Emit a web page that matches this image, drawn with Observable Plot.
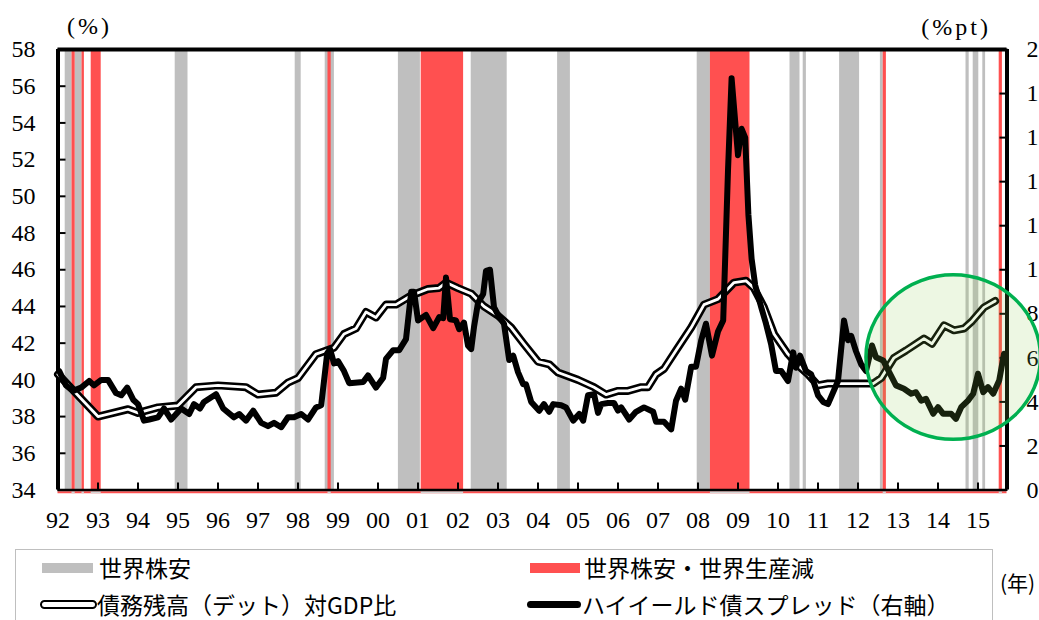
<!DOCTYPE html>
<html>
<head>
<meta charset="utf-8">
<script src="https://cdn.jsdelivr.net/npm/d3@7"></script>
<script src="https://cdn.jsdelivr.net/npm/@observablehq/plot@0.6"></script>
<style>
  html, body { margin: 0; padding: 0; background: #fff; }
  body { width: 1039px; height: 620px; overflow: hidden; position: relative; }
  #chart { position: absolute; left: 0; top: 0; }
  #chart svg, #chart svg text { font-family: "Liberation Serif", "DejaVu Serif", "Times New Roman", serif !important; }
  .unit { position: absolute; font-family: "Liberation Serif", "DejaVu Serif", "Times New Roman", serif; font-size: 24px; line-height: 24px; letter-spacing: 3px; color: #000; white-space: nowrap; }
  #legendBox { position: absolute; left: 15px; top: 549px; width: 978px; height: 110px; border: 1.5px solid #bfbfbf; box-sizing: border-box; }
  .lg { position: absolute; font-family: "Noto Sans CJK JP", sans-serif; font-size: 23px; line-height: 23px; color: #000; white-space: nowrap; }
  .sw { position: absolute; box-sizing: border-box; }
</style>
</head>
<body>
<div id="chart"></div>
<div class="unit" style="left:67px; top:14px;">(%)</div>
<div class="unit" style="right:48px; top:15px;">(%pt)</div>
<div id="legendBox"></div>
<div class="sw" style="left:42px; top:563px; width:51px; height:10px; background:#bfbfbf;"></div>
<div class="lg" style="left:99px; top:556px;">世界株安</div>
<div class="sw" style="left:530px; top:563px; width:50px; height:10px; background:#ff5050;"></div>
<div class="lg" style="left:584px; top:556px;">世界株安・世界生産減</div>
<div class="sw" style="left:40px; top:600px; width:57px; height:9px; background:#fff; border:2.7px solid #000; border-radius:4.5px;"></div>
<div class="lg" style="left:97px; top:593px;">債務残高（デット）対GDP比</div>
<div class="sw" style="left:527px; top:601px; width:54px; height:7px; background:#000; border-radius:3.5px;"></div>
<div class="lg" style="left:582px; top:593px;">ハイイールド債スプレッド（右軸）</div>
<div class="lg" style="left:1000px; top:572px; font-size:21px; line-height:21px;">(年)</div>
<script>
// ---- data ----
const yearTicks = d3.range(1992, 2016);
const leftTicks = d3.range(34, 59, 2);     // 債務残高 (%)
const rightTicks = d3.range(0, 21, 2);     // スプレッド (%pt)

// 債務残高（デット）対GDP比 (%), left axis
const debtYear = [1992.00,1993.00,1993.75,1994.00,1994.50,1995.00,1995.45,1996.00,1996.70,1997.00,1997.45,1997.75,1998.00,1998.45,1998.90,1999.15,1999.45,1999.70,1999.95,2000.20,2000.45,2000.83,2001.25,2001.52,2001.70,2002.00,2002.33,2002.65,2003.00,2003.33,2003.65,2004.00,2004.28,2004.50,2005.00,2005.40,2005.70,2006.00,2006.25,2006.58,2006.75,2006.95,2007.15,2007.45,2007.83,2008.15,2008.50,2008.90,2009.20,2009.40,2009.65,2009.90,2010.25,2010.50,2010.75,2011.00,2011.25,2011.75,2012.38,2012.58,2012.90,2013.20,2013.65,2013.85,2014.15,2014.40,2014.65,2014.83,2015.15,2015.43];
const debtValue = [40.3,38.0,38.4,38.2,38.5,38.6,39.6,39.7,39.6,39.2,39.3,39.85,40.1,41.4,41.75,42.5,42.8,43.7,43.4,44.1,44.1,44.6,44.95,45.0,45.3,45.0,44.7,44.0,43.5,42.85,41.95,41.0,40.85,40.4,40.0,39.6,39.2,39.4,39.4,39.6,39.6,40.3,40.6,41.6,42.85,44.1,44.4,45.3,45.4,45.0,43.95,42.5,41.4,40.8,40.3,39.7,39.8,39.8,39.8,40.1,41.2,41.6,42.25,41.97,42.97,42.7,42.8,43.15,43.95,44.3];

// ハイイールド債スプレッド (%pt), right axis
const spreadYear = [1992.03,1992.20,1992.38,1992.58,1992.78,1992.90,1993.08,1993.25,1993.45,1993.58,1993.73,1993.88,1994.00,1994.15,1994.28,1994.50,1994.65,1994.83,1995.08,1995.28,1995.40,1995.55,1995.65,1995.95,1996.13,1996.40,1996.53,1996.70,1996.88,1997.08,1997.25,1997.40,1997.58,1997.75,1997.90,1998.08,1998.25,1998.45,1998.58,1998.73,1998.80,1998.90,1999.00,1999.15,1999.28,1999.63,1999.75,1999.95,2000.13,2000.20,2000.38,2000.53,2000.70,2000.83,2000.90,2001.00,2001.20,2001.38,2001.53,2001.63,2001.70,2001.80,2001.95,2002.03,2002.15,2002.25,2002.33,2002.40,2002.50,2002.63,2002.70,2002.80,2002.90,2003.03,2003.15,2003.28,2003.38,2003.50,2003.63,2003.70,2003.83,2004.03,2004.15,2004.28,2004.38,2004.58,2004.70,2004.88,2005.03,2005.13,2005.25,2005.40,2005.50,2005.58,2005.75,2005.90,2006.00,2006.08,2006.28,2006.45,2006.65,2006.88,2006.95,2007.15,2007.33,2007.45,2007.58,2007.68,2007.83,2007.95,2008.08,2008.20,2008.35,2008.50,2008.63,2008.75,2008.84,2009.00,2009.09,2009.18,2009.26,2009.34,2009.43,2009.58,2009.70,2009.83,2009.95,2010.08,2010.25,2010.38,2010.45,2010.55,2010.70,2010.83,2011.00,2011.13,2011.25,2011.50,2011.65,2011.75,2011.83,2011.95,2012.08,2012.20,2012.35,2012.45,2012.63,2012.78,2012.95,2013.15,2013.33,2013.45,2013.58,2013.70,2013.88,2014.00,2014.13,2014.33,2014.45,2014.58,2014.75,2014.88,2015.00,2015.13,2015.25,2015.38,2015.53,2015.65];
const spreadValue = [5.4,4.75,4.5,4.65,4.95,4.75,5.0,5.0,4.4,4.3,4.65,4.1,3.9,3.15,3.2,3.3,3.7,3.2,3.7,3.45,3.9,3.7,4.0,4.35,3.7,3.3,3.45,3.15,3.6,3.05,2.9,3.05,2.85,3.3,3.3,3.45,3.2,3.75,3.85,6.2,6.4,5.75,5.85,5.4,4.85,4.9,5.2,4.65,5.1,5.95,6.35,6.35,6.85,9.0,9.0,7.7,7.95,7.35,7.85,7.8,9.65,7.75,7.7,7.3,7.6,6.55,6.4,7.4,8.5,8.9,9.95,10.0,8.3,7.85,7.55,5.9,6.1,5.35,4.8,4.8,4.0,3.6,3.9,3.55,3.9,3.85,3.75,3.15,3.45,3.15,4.3,4.35,3.5,3.9,3.95,3.95,3.6,3.75,3.2,3.55,3.75,3.55,3.1,3.1,2.75,4.05,4.6,4.1,5.6,5.6,6.8,7.55,6.1,7.2,7.7,14.5,18.7,15.2,16.4,16.0,12.5,10.5,9.3,8.3,7.55,6.6,5.4,5.4,4.95,6.25,5.55,6.1,5.4,5.25,4.3,4.0,3.9,4.95,7.7,6.8,7.0,6.3,5.7,5.4,6.56,6.03,5.88,5.35,4.75,4.6,4.37,4.44,4.06,4.14,3.46,3.76,3.46,3.46,3.23,3.76,4.06,4.37,5.28,4.44,4.67,4.37,4.97,6.19];

// 世界株安 periods (gray) and 世界株安・世界生産減 periods (red)
const grayStart = [1992.18,1992.43,1994.93,1997.93,1998.68,2000.51,2002.33,2004.49,2007.98,2010.30,2010.63,2011.54,2012.56,2014.70,2014.88,2015.12];
const grayEnd   = [1992.35,1992.60,1995.25,1998.08,1998.91,2001.06,2003.23,2004.81,2008.31,2010.55,2010.71,2012.04,2012.63,2014.78,2015.02,2015.19];
const redStart  = [1992.35,1992.60,1992.83,1998.75,2001.08,2008.31,2012.63,2015.53];
const redEnd    = [1992.43,1992.66,1993.08,1998.83,2002.14,2009.30,2012.71,2015.61];

// highlight circle (annotation)
const highlightYear = [2014.38];
const highlightValue = [41.24];

// ---- build ----
const X0 = 1992, X1 = 2015.725;
const toLeft = s => 34 + s * 24 / 20;
const fromLeft = v => Math.round((v - 34) * 20 / 24);
// the reference shows the right-axis labels clipped by the image edge: only the leading digit is visible
const rightLabel = v => String(fromLeft(v)).charAt(0);

const debt = debtYear.map((t, i) => ({t, v: debtValue[i]}));
const spread = spreadYear.map((t, i) => ({t, v: toLeft(spreadValue[i])}));
const gray = grayStart.map((s, i) => ({s, e: grayEnd[i]}));
const red = redStart.map((s, i) => ({s, e: redEnd[i]}));
const highlight = highlightYear.map((t, i) => ({t, v: highlightValue[i]}));

const RED = "#ff5050", GRAY = "#bfbfbf";
const SERIF = '"Liberation Serif", "DejaVu Serif", "Times New Roman", serif';

const chart = Plot.plot({
  width: 1039,
  height: 540,
  marginLeft: 57.5,
  marginRight: 32.5,
  marginTop: 49,
  marginBottom: 50.5,
  style: {fontFamily: SERIF, fontSize: "24px", color: "#000"},
  x: {domain: [X0, X1]},
  y: {domain: [34, 58]},
  marks: [
    Plot.rect(gray, {x1: "s", x2: "e", y1: 34, y2: 58, fill: GRAY}),
    Plot.rect(red, {x1: "s", x2: "e", y1: 34, y2: 58, fill: RED}),
    Plot.ruleY([34], {stroke: RED, strokeWidth: 2, dy: 2.3}),
    Plot.ruleY(red, {y: () => 34, x1: "s", x2: "e", stroke: "#d4d4d4", strokeWidth: 2, dy: 2.3}),
    Plot.ruleY([34], {stroke: "#000", strokeWidth: 2.5}),
    Plot.ruleY([58], {stroke: "#000", strokeWidth: 4}),
    Plot.ruleX([X0, X1], {stroke: "#000", strokeWidth: 4}),
    Plot.axisX({ticks: yearTicks, tickSize: -7, tickPadding: 27.5, strokeWidth: 2, fontSize: 24, tickFormat: d => String(d).slice(2), label: null}),
    Plot.axisY({anchor: "left", ticks: leftTicks, tickSize: -8, tickPadding: 30.5, strokeWidth: 2, fontSize: 24, tickFormat: d => String(d), label: null}),
    Plot.axisY({anchor: "right", ticks: rightTicks.map(toLeft), tickSize: -8, tickPadding: 27.5, strokeWidth: 2, fontSize: 24, tickFormat: rightLabel, label: null}),
    Plot.line(debt, {x: "t", y: "v", stroke: "#000", strokeWidth: 8, strokeLinejoin: "round", strokeLinecap: "round"}),
    Plot.line(debt, {x: "t", y: "v", stroke: "#fff", strokeWidth: 2.8, strokeLinejoin: "round", strokeLinecap: "round"}),
    Plot.line(spread, {x: "t", y: "v", stroke: "#000", strokeWidth: 6, strokeLinejoin: "round", strokeLinecap: "round"}),
    Plot.dot(highlight, {x: "t", y: "v", r: 83.5, fill: "#92d050", fillOpacity: 0.16, stroke: "#00b050", strokeWidth: 3.5})
  ]
});

// slightly widen the highlight circle into the ellipse of the reference
chart.querySelectorAll("circle").forEach(c => {
  const cx = +c.getAttribute("cx"), cy = +c.getAttribute("cy");
  if (!isNaN(cx) && !isNaN(cy)) {
    c.setAttribute("transform", `translate(${cx},${cy}) scale(1.045,0.985) translate(${-cx},${-cy})`);
    c.setAttribute("vector-effect", "non-scaling-stroke");
  }
});

document.getElementById("chart").appendChild(chart);
</script>
</body>
</html>
